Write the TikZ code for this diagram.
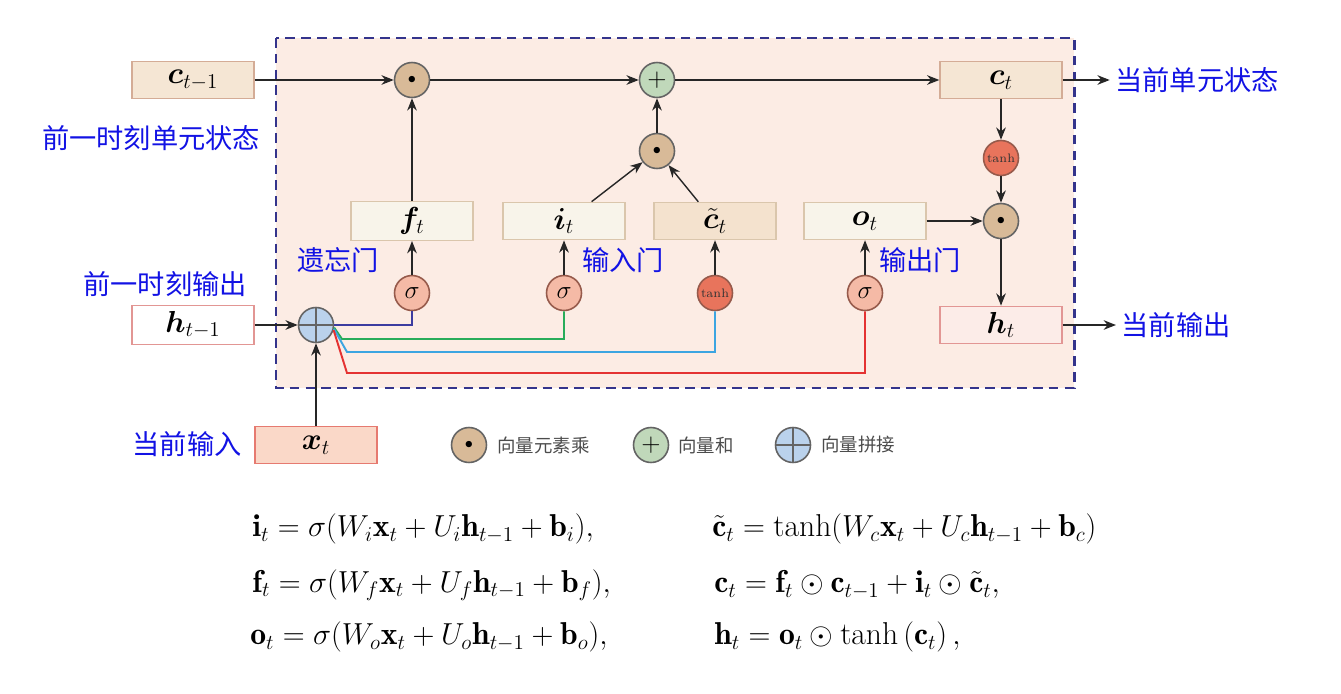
\documentclass[tikz,border=0pt]{standalone}
\usepackage{amsmath,amssymb}
\usepackage{bm}
\usepackage{fontspec}
\newfontfamily\zhfont{Noto Sans CJK SC}
\usepackage{tikz}
\usetikzlibrary{positioning,calc,arrows.meta}
\usepackage{xcolor}

\definecolor{bgpink}{RGB}{252,236,228}
\definecolor{dashnavy}{RGB}{52,52,140}
\definecolor{zhblue}{RGB}{18,18,228}
\definecolor{ctfill}{RGB}{245,230,212}
\definecolor{ctline}{RGB}{212,172,150}
\definecolor{gatefill}{RGB}{248,244,234}
\definecolor{gateline}{RGB}{218,198,172}
\definecolor{candfill}{RGB}{244,226,206}
\definecolor{hline}{RGB}{226,150,148}
\definecolor{htfill}{RGB}{252,236,232}
\definecolor{xfill}{RGB}{250,216,200}
\definecolor{xline}{RGB}{230,122,112}
\definecolor{opline}{RGB}{100,100,100}
\definecolor{mulfill}{RGB}{216,186,152}
\definecolor{addfill}{RGB}{192,216,186}
\definecolor{catfill}{RGB}{186,210,236}
\definecolor{sigfill}{RGB}{245,186,166}
\definecolor{sigline}{RGB}{150,90,75}
\definecolor{tanhfill}{RGB}{232,116,92}
\definecolor{navyline}{RGB}{60,60,160}
\definecolor{greenline}{RGB}{40,172,90}
\definecolor{cyanline}{RGB}{60,165,225}
\definecolor{redline}{RGB}{228,50,50}

\begin{document}
\begin{tikzpicture}[
    x=0.02cm, y=-0.02cm,
    >={Stealth[length=7pt,width=5.5pt]},
    cellbox/.style={rectangle, draw, line width=0.8pt, minimum width=2.44cm, minimum height=0.74cm, font=\fontsize{18}{20}\selectfont},
    gatebox/.style={cellbox, fill=gatefill, draw=gateline},
    opnode/.style={circle, draw=opline, line width=0.9pt, minimum size=0.7cm, inner sep=0pt},
    mulnode/.style={opnode, fill=mulfill, font=\small},
    addnode/.style={opnode, fill=addfill, font=\Large},
    catnode/.style={opnode, fill=catfill, path picture={
        \draw[opline, line width=0.9pt] (path picture bounding box.north) -- (path picture bounding box.south)
            (path picture bounding box.west) -- (path picture bounding box.east);}},
    sigmanode/.style={opnode, fill=sigfill, draw=sigline, font=\Large},
    tanhnode/.style={opnode, fill=tanhfill, draw=sigline, text=black!80, font=\fontsize{7}{8}\selectfont},
    zhlabel/.style={text=zhblue, inner sep=0pt, font=\zhfont\fontsize{15.5}{18}\selectfont},
    legendtext/.style={anchor=west, text=black!70, inner sep=0pt, font=\zhfont\fontsize{10.5}{12}\selectfont},
    eqn/.style={anchor=west, inner sep=0pt, font=\fontsize{18}{21}\selectfont},
    flow/.style={->, thick, black!85},
    wire/.style={line width=1.1pt}
]
    \useasboundingbox (0,0) rectangle (1341,693);

    % Cell frame
    \draw[dashnavy, fill=bgpink, line width=1.7pt, dash pattern=on 5.5pt off 3.5pt] (276,38) rectangle (1074,388);

    % States in and out
    \node[cellbox, fill=ctfill, draw=ctline] (cprev) at (193,80) {$\bm{c}_{t-1}$};
    \node[cellbox, fill=white, draw=hline] (hprev) at (193,325) {$\bm{h}_{t-1}$};
    \node[cellbox, fill=xfill, draw=xline] (xt) at (316,445) {$\bm{x}_t$};
    \node[cellbox, fill=ctfill, draw=ctline] (ct) at (1001,80) {$\bm{c}_t$};
    \node[cellbox, fill=htfill, draw=hline] (ht) at (1001,325) {$\bm{h}_t$};

    % Gates
    \node[gatebox] (ft) at (412,221) {$\bm{f}_t$};
    \node[gatebox] (it) at (564,221) {$\bm{i}_t$};
    \node[gatebox, fill=candfill] (cand) at (715,221) {$\bm{\tilde{c}}_t$};
    \node[gatebox] (ot) at (865,221) {$\bm{o}_t$};

    % Activations
    \node[sigmanode] (sf) at (412,293) {$\sigma$};
    \node[sigmanode] (si) at (564,293) {$\sigma$};
    \node[tanhnode] (tc) at (715,293) {tanh};
    \node[sigmanode] (so) at (865,293) {$\sigma$};
    \node[tanhnode] (tct) at (1001,158) {tanh};

    % Operators
    \node[mulnode] (mf) at (412,80) {$\bullet$};
    \node[addnode] (add) at (657,80) {$+$};
    \node[mulnode] (mi) at (657,151) {$\bullet$};
    \node[mulnode] (mo) at (1001,221) {$\bullet$};
    \node[catnode] (cat) at (316,325) {};

    % Labels
    \node[zhlabel] (cprevlbl) at (151,138) {前一时刻单元状态};
    \node[zhlabel] (hprevlbl) at (165,284) {前一时刻输出};
    \node[zhlabel] (xtlbl) at (187,444) {当前输入};
    \node[zhlabel] (ftlbl) at (338,260) {遗忘门};
    \node[zhlabel] (itlbl) at (623,260) {输入门};
    \node[zhlabel] (otlbl) at (920,260) {输出门};
    \node[zhlabel] (ctlbl) at (1197,80) {当前单元状态};
    \node[zhlabel] (htlbl) at (1176,325) {当前输出};

    % Arrows
    \draw[flow] (cprev) -- (mf);
    \draw[flow] (mf) -- (add);
    \draw[flow] (add) -- (ct);
    \draw[flow] (hprev) -- (cat);
    \draw[flow] (xt) -- (cat);
    \foreach \a/\b in {sf/ft, si/it, tc/cand, so/ot, ft/mf, mi/add, ct/tct, tct/mo, ot/mo, mo/ht} {
        \draw[flow] (\a) -- (\b);
    }
    \draw[flow] (it.35) -- (mi);
    \draw[flow] (cand.131) -- (mi);
    \draw[flow, shorten >=3pt] (ct) -- (ctlbl);
    \draw[flow, shorten >=3pt] (ht) -- (htlbl);

    % Concatenated input to the gates
    \draw[wire, navyline] (cat.east) -| (sf.south);
    \draw[wire, greenline] (cat.-8) -- (342,339) -| (si.south);
    \draw[wire, cyanline] (cat.-12) -- (347,352) -| (tc.south);
    \draw[wire, redline] (cat.-16) -- (347,373) -| (so.south);

    % Legend
    \node[mulnode] (lgmul) at (469,445) {$\bullet$};
    \node[legendtext] (lgmultxt) at (497,445) {向量元素乘};
    \node[addnode] (lgadd) at (651,445) {$+$};
    \node[legendtext] (lgaddtxt) at (678,445) {向量和};
    \node[catnode] (lgcat) at (793,445) {};
    \node[legendtext] (lgcattxt) at (821,445) {向量拼接};

    % Equations
    \node[eqn] (eqi) at (252,529) {$\mathbf{i}_t = \sigma(W_i\mathbf{x}_t + U_i\mathbf{h}_{t-1} + \mathbf{b}_i),$};
    \node[eqn] (eqf) at (252,585) {$\mathbf{f}_t = \sigma(W_f\mathbf{x}_t + U_f\mathbf{h}_{t-1} + \mathbf{b}_f),$};
    \node[eqn] (eqo) at (250,637) {$\mathbf{o}_t = \sigma(W_o\mathbf{x}_t + U_o\mathbf{h}_{t-1} + \mathbf{b}_o),$};
    \node[eqn] (eqc) at (712,529) {$\tilde{\mathbf{c}}_t = \tanh(W_c\mathbf{x}_t + U_c\mathbf{h}_{t-1} + \mathbf{b}_c)$};
    \node[eqn] (eqct) at (714,585) {$\mathbf{c}_t = \mathbf{f}_t \odot \mathbf{c}_{t-1} + \mathbf{i}_t \odot \tilde{\mathbf{c}}_t,$};
    \node[eqn] (eqh) at (714,637) {$\mathbf{h}_t = \mathbf{o}_t \odot \tanh\left(\mathbf{c}_t\right),$};
\end{tikzpicture}
\end{document}
